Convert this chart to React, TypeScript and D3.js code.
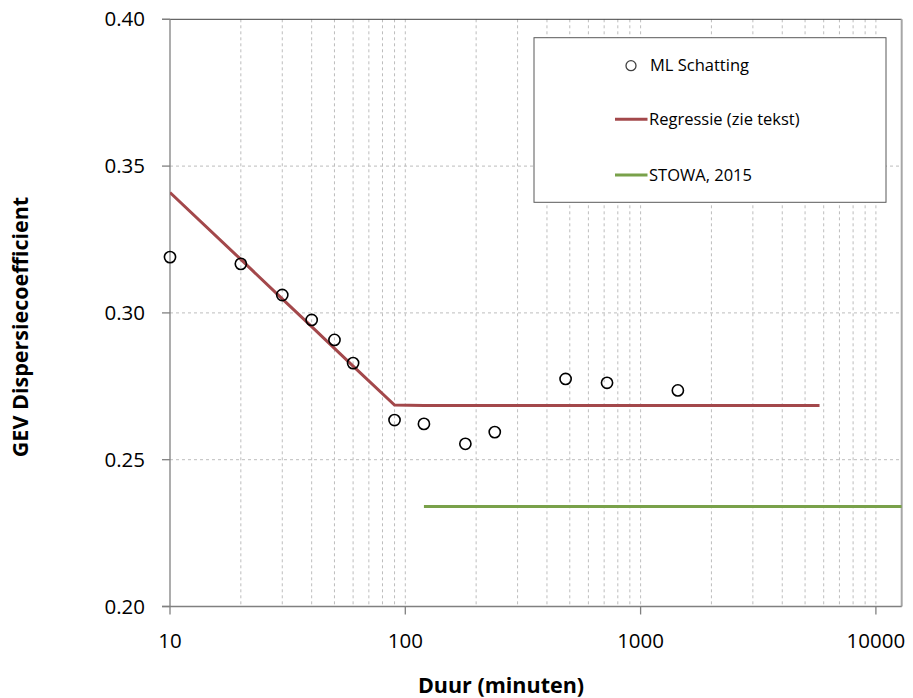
import React from "react";
import * as d3 from "d3";

const durations = [10, 20, 30, 40, 50, 60, 90, 120, 180, 240, 480, 720, 1440];
const mlEstimates = [0.319, 0.3167, 0.3061, 0.2976, 0.2908, 0.2829, 0.2635, 0.2622, 0.2554, 0.2594, 0.2775, 0.2762, 0.2736];

const regDurations = [10, 20, 30, 40, 50, 60, 90, 120, 180, 240, 480, 720, 1440, 2880, 5760];
const regValues = [0.341, 0.3182, 0.3048, 0.2953, 0.2879, 0.2819, 0.2686, 0.2685, 0.2685, 0.2685, 0.2685, 0.2685, 0.2685, 0.2685, 0.2685];

const stowaDurations = [120, 12900];
const stowaValues = [0.2341, 0.2341];

const xTickValues = [10, 100, 1000, 10000];
const yTickValues = [0.2, 0.25, 0.3, 0.35, 0.4];

const legendLabels = ["ML Schatting", "Regressie (zie tekst)", "STOWA, 2015"];

const W = 913;
const H = 698;
const left = 170;
const right = 901.7;
const top = 19.3;
const bottom = 606.5;

const FONT = "'Open Sans', 'Noto Sans', sans-serif";
const RED = "#a3484b";
const GREEN = "#79a14a";

export default function App() {
  const x = d3.scaleLog().domain([10, 10 ** (1 + (right - left) / 235.3)]).range([left, right]);
  const y = d3.scaleLinear().domain([0.2, 0.4]).range([bottom, top]);

  const minorX: number[] = [];
  for (let d = 10; d <= 10000; d *= 10) {
    for (let k = 1; k <= 9; k++) {
      const v = d * k;
      if (v > 10 && v <= x.domain()[1]) minorX.push(v);
    }
  }

  const line = d3
    .line<[number, number]>()
    .x((d) => x(d[0]))
    .y((d) => y(d[1]));

  const regPts = regDurations.map((d, i) => [d, regValues[i]] as [number, number]);
  const stowaPts = stowaDurations.map((d, i) => [d, stowaValues[i]] as [number, number]);

  const lg = { x: 534, y: 37.7, w: 352, h: 164.6 };
  const rowY = [65.7, 119.3, 175];

  return (
    <svg
      width={W}
      height={H}
      style={{ position: "absolute", left: 0, top: 0, background: "#fff" }}
      fontFamily={FONT}
    >
      <defs>
        <clipPath id="plotclip">
          <rect x={left} y={top - 2} width={right - left} height={bottom - top + 4} />
        </clipPath>
      </defs>
      {/* gridlines */}
      {minorX.map((v) => (
        <line
          key={"gx" + v}
          x1={x(v)}
          x2={x(v)}
          y1={top}
          y2={bottom}
          stroke="#bdbdbd"
          strokeWidth={1}
          strokeDasharray="3,3"
        />
      ))}
      {yTickValues
        .filter((v) => v > 0.2 && v < 0.4)
        .map((v) => (
          <line
            key={"gy" + v}
            x1={left}
            x2={right}
            y1={y(v)}
            y2={y(v)}
            stroke="#bdbdbd"
            strokeWidth={1}
            strokeDasharray="3,3"
          />
        ))}
      {/* borders / axes */}
      <line x1={left - 8} x2={right} y1={top} y2={top} stroke="#404040" strokeWidth={1} />
      <line x1={right} x2={right} y1={top} y2={bottom} stroke="#a6a6a6" strokeWidth={2} />
      <line x1={left} x2={left} y1={top} y2={bottom} stroke="#808080" strokeWidth={1.3} />
      <line x1={left - 8} x2={right} y1={bottom} y2={bottom} stroke="#808080" strokeWidth={1.3} />
      {yTickValues.map((v) => (
        <g key={"yt" + v}>
          <line x1={left - 8} x2={left} y1={y(v)} y2={y(v)} stroke="#808080" strokeWidth={1.3} />
          <text x={145} y={y(v)} dy="0.35em" textAnchor="end" fontSize={20.5} fill="#000">
            {d3.format(".2f")(v)}
          </text>
        </g>
      ))}
      {xTickValues.map((v) => (
        <g key={"xt" + v}>
          <line x1={x(v)} x2={x(v)} y1={bottom} y2={bottom + 8} stroke="#808080" strokeWidth={1.3} />
          <text x={x(v)} y={648} textAnchor="middle" fontSize={20.5} fill="#000">
            {String(v)}
          </text>
        </g>
      ))}
      {/* axis titles */}
      <text x={501} y={693} textAnchor="middle" fontSize={21.5} fontWeight="bold" fill="#000">
        Duur (minuten)
      </text>
      <text
        transform={`translate(28, 327) rotate(-90)`}
        textAnchor="middle"
        fontSize={21.5}
        fontWeight="bold"
        fill="#000"
      >
        GEV Dispersiecoefficient
      </text>
      {/* series */}
      <g clipPath="url(#plotclip)">
        <path d={line(stowaPts) || ""} fill="none" stroke={GREEN} strokeWidth={3} />
        <path d={line(regPts) || ""} fill="none" stroke={RED} strokeWidth={3} />
      </g>
      {durations.map((d, i) => (
        <circle
          key={"p" + d}
          cx={x(d)}
          cy={y(mlEstimates[i])}
          r={5.6}
          fill="none"
          stroke="#000"
          strokeWidth={1.6}
        />
      ))}
      {/* legend */}
      <rect x={lg.x} y={lg.y} width={lg.w} height={lg.h} fill="#fff" stroke="#595959" strokeWidth={1} />
      <circle cx={631} cy={rowY[0]} r={5} fill="none" stroke="#404040" strokeWidth={1.3} />
      <line x1={615} x2={647.5} y1={rowY[1]} y2={rowY[1]} stroke={RED} strokeWidth={3} />
      <line x1={615} x2={647.5} y1={rowY[2]} y2={rowY[2]} stroke={GREEN} strokeWidth={3} />
      {legendLabels.map((t, i) => (
        <text key={t} x={i === 0 ? 650 : 649} y={rowY[i]} dy="0.35em" fontSize={16.5} fill="#000">
          {t}
        </text>
      ))}
    </svg>
  );
}
